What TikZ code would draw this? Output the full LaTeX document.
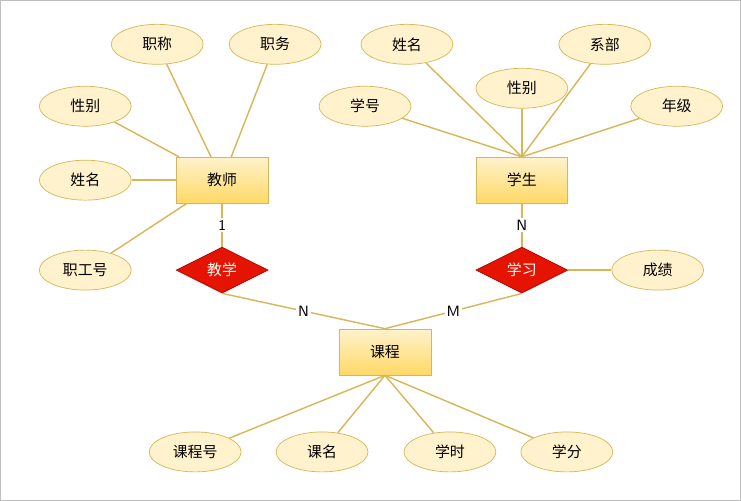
\documentclass[tikz,border=0pt]{standalone}
\usepackage{fontspec}
\newfontfamily\cjk{Noto Sans CJK SC}
\usetikzlibrary{shapes.geometric}
\definecolor{attrfill}{HTML}{FFF2CC}
\definecolor{attrline}{HTML}{D6B656}
\definecolor{entdark}{HTML}{FFD966}
\definecolor{relfill}{HTML}{E51400}
\definecolor{relline}{HTML}{B20000}
\begin{document}
\begin{tikzpicture}
[x=0.02cm,y=-0.02cm,font=\cjk\fontsize{8.5}{10}\selectfont,
attr/.style={ellipse,draw=attrline,fill=attrfill,minimum width=1.84cm,minimum height=0.8cm,inner sep=0pt},
entity/.style={rectangle,draw=attrline,top color=attrfill,bottom color=entdark,minimum width=1.84cm,minimum height=0.92cm},
rel/.style={diamond,aspect=2,draw=relline,fill=relfill,text=white,minimum width=1.84cm,minimum height=0.92cm,inner sep=0pt},
link/.style={draw=attrline,thick},
card/.style={fill=white,inner sep=1pt,font=\sffamily\fontsize{8.5}{10}\selectfont}]
\draw[gray!50,fill=white] (0,0) rectangle (741,500);
% entities
\node[entity] (teacher) at (222,180) {教师};
\node[entity] (student) at (522,180) {学生};
\node[entity] (course) at (385,352) {课程};
% relations
\node[rel] (teach) at (222,270) {教学};
\node[rel] (study) at (522,270) {学习};
% teacher attributes
\node[attr] (ttitle) at (157,44) {职称};
\node[attr] (tpost) at (275,44) {职务};
\node[attr] (tsex) at (85,106) {性别};
\node[attr] (tname) at (85,180) {姓名};
\node[attr] (tid) at (85,270) {职工号};
% student attributes
\node[attr] (sname) at (407,44) {姓名};
\node[attr] (sdept) at (605,44) {系部};
\node[attr] (ssex) at (522,88) {性别};
\node[attr] (sid) at (365,106) {学号};
\node[attr] (sgrade) at (677,106) {年级};
\node[attr] (score) at (658,270) {成绩};
% course attributes
\node[attr] (cid) at (195,452) {课程号};
\node[attr] (cname) at (322,452) {课名};
\node[attr] (chour) at (450,452) {学时};
\node[attr] (ccredit) at (567,452) {学分};
% links
\foreach \a in {ttitle,tpost,tsex,tname,tid}
  \draw[link] (\a) -- (teacher);
\foreach \a in {sname,sdept,ssex,sid,sgrade}
  \draw[link] (\a) -- (student.north);
\foreach \a in {cid,cname,chour,ccredit}
  \draw[link] (\a) -- (course.south);
\draw[link] (study) -- (score);
\draw[link] (teacher) -- node[card]{1} (teach);
\draw[link] (student) -- node[card]{N} (study);
\draw[link] (teach.south) -- node[card]{N} (course.north);
\draw[link] (study.south) -- node[card]{M} (course.north);
\end{tikzpicture}
\end{document}
